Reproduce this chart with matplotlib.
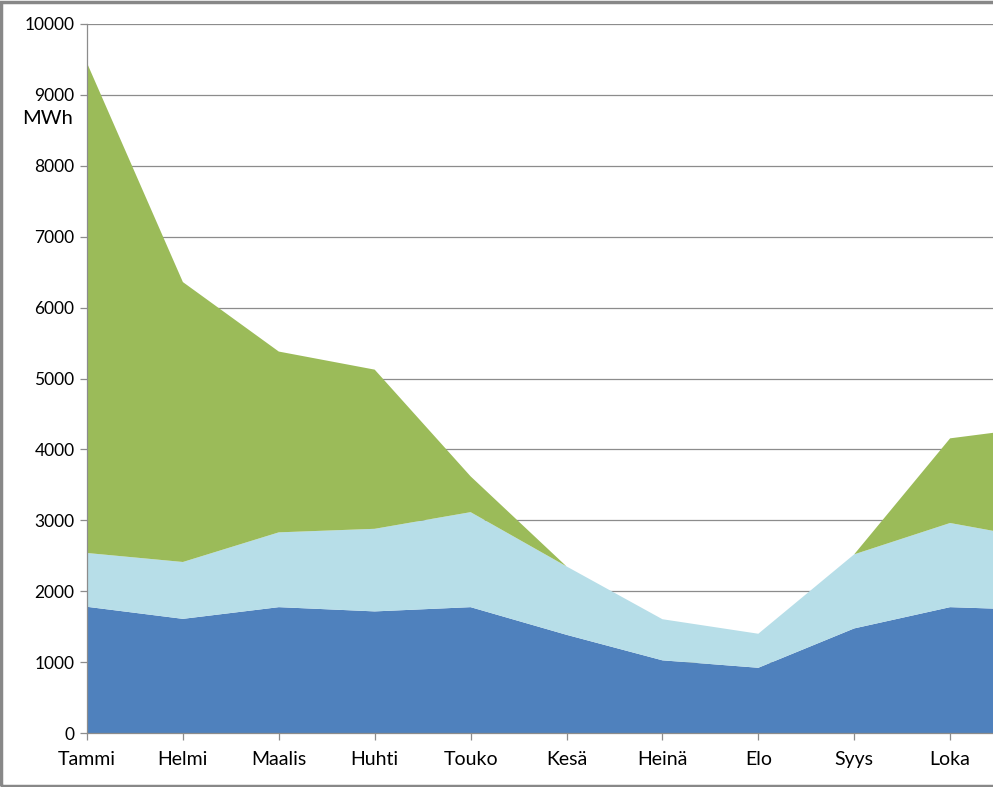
import matplotlib
matplotlib.use("Agg")
import matplotlib.pyplot as plt
from matplotlib.patches import Rectangle

# month labels (chart is cut at the right edge, Marras only partly drawn)
months = ["Tammi", "Helmi", "Maalis", "Huhti", "Touko", "Kesä",
          "Heinä", "Elo", "Syys", "Loka", "Marras"]

# stacked series, MWh
dark_blue = [1780, 1610, 1775, 1715, 1775, 1385, 1025, 920, 1475, 1775, 1730]
light_blue = [759, 802, 1055, 1165, 1340, 965, 580, 480, 1045, 1187, 985]
green = [6911, 3948, 2550, 2245, 505, 0, 0, 0, 0, 1194, 1615]

colors = ["#4F81BD", "#B7DEE8", "#9BBB59"]

plt.rcParams['font.family'] = ['Lato', 'DejaVu Sans']

W, H = 993, 787
fig = plt.figure(figsize=(W / 100, H / 100), dpi=100)

# axes: left at x=87, bottom at y=733, top at y=24, runs off the right edge
ax = fig.add_axes([87 / W, (H - 733) / H, (W - 87) / W, (733 - 24) / H])
x = list(range(len(months)))
ax.stackplot(x, dark_blue, light_blue, green, colors=colors, linewidth=0, zorder=2)

# only the months that fit on the canvas get a tick
xmax = (W - 87) / 95.9
shown = [i for i in x if i <= xmax]
ax.set_xticks(shown)
ax.set_xticklabels(months[:len(shown)])
ax.set_yticks(range(0, 10001, 1000))
ax.set_xlim(0, xmax)
ax.set_ylim(0, 10000)

ax.grid(axis="y", color="#8c8c8c", linewidth=0.9, zorder=1)
ax.set_axisbelow(True)
for s in ["top", "right"]:
    ax.spines[s].set_visible(False)
for s in ["left", "bottom"]:
    ax.spines[s].set_color("#8c8c8c")
    ax.spines[s].set_linewidth(0.9)
    ax.spines[s].set_zorder(3)
ax.tick_params(axis="both", colors="#8c8c8c", length=5, width=0.9, labelcolor="black")
ax.tick_params(axis="x", pad=8, labelsize=14)
ax.tick_params(axis="y", pad=4, labelsize=12.5)

fig.text(48 / W, 1 - 118 / H, "MWh", fontsize=14.5, ha="center", va="center")

# outer gray border of the chart area (right side is cropped)
fig.patches.append(Rectangle((1 / W, 1 / H), 1.2, 1 - 2.5 / H, transform=fig.transFigure,
                             fill=False, edgecolor="#888888", linewidth=2.5))

fig.savefig("out.png", dpi=100)
